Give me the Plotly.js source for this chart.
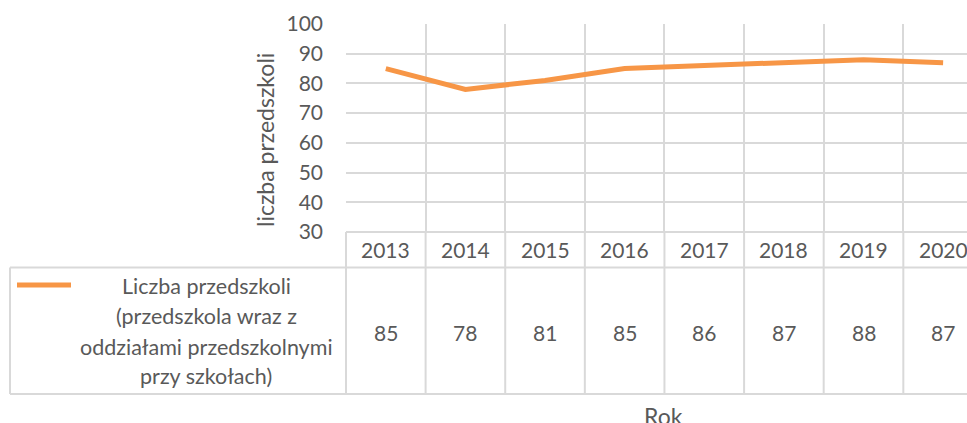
<!DOCTYPE html>
<html>
<head>
<meta charset="utf-8">
<script src="https://cdn.plot.ly/plotly-3.0.1.min.js"></script>
<style>html,body{margin:0;padding:0;background:#fff;}#chart{width:967px;height:423px;}</style>
</head>
<body>
<div id="chart"></div>
<script>
const years = [2013, 2014, 2015, 2016, 2017, 2018, 2019, 2020];
const values = [85, 78, 81, 85, 86, 87, 88, 87];
const seriesName = ["Liczba przedszkoli", "(przedszkola wraz z", "oddziałami przedszkolnymi", "przy szkołach)"];
const yTicks = [30, 40, 50, 60, 70, 80, 90, 100];
const yTitle = "liczba przedszkoli";
const xTitle = "Rok";

const W = 967, H = 423;
const L = 346, T = 24, B = 232;
const plotW = W - L, plotH = B - T;
const xr = [2012.5, 2020.3];
const px2x = px => (px - L) / plotW;
const py2y = py => (B - py) / plotH;
const dx = v => (v - xr[0]) / (xr[1] - xr[0]);

const grid = '#D9D9D9', txt = '#595959', orange = '#F79646';
const font = 'Lato, "Open Sans", sans-serif';

const shapes = [];
const annotations = [];
const line = (x0, y0, x1, y1) => shapes.push({type: 'line', xref: 'paper', yref: 'paper', x0, y0, x1, y1, line: {color: grid, width: 2}, layer: 'below'});

// vertical boundaries through category row and table
years.forEach(yv => { const xp = dx(yv - 0.5); line(xp, py2y(232), xp, py2y(394)); });
// horizontal table lines
line(px2x(346), py2y(232), 1.05, py2y(232));
line(px2x(10), py2y(267.5), 1.05, py2y(267.5));
line(px2x(10), py2y(394), 1.05, py2y(394));
line(px2x(10), py2y(267.5), px2x(10), py2y(394));
// legend line
shapes.push({type: 'line', xref: 'paper', yref: 'paper', x0: px2x(17), x1: px2x(71), y0: py2y(285), y1: py2y(285), line: {color: orange, width: 5}});

years.forEach((yv, i) => {
  annotations.push({xref: 'x', yref: 'paper', x: yv, y: py2y(249), text: String(yv), showarrow: false, font: {family: font, size: 21, color: txt}, xanchor: 'center', yanchor: 'middle'});
  annotations.push({xref: 'x', yref: 'paper', x: yv, y: py2y(332), text: String(values[i]), showarrow: false, font: {family: font, size: 21, color: txt}, xanchor: 'center', yanchor: 'middle'});
});
const legY = [286, 316, 347, 376];
seriesName.forEach((t, i) => annotations.push({xref: 'paper', yref: 'paper', x: px2x(206), y: py2y(legY[i]), text: t, showarrow: false, font: {family: font, size: 21.5, color: txt}, xanchor: 'center', yanchor: 'middle'}));
annotations.push({xref: 'paper', yref: 'paper', x: px2x(265), y: py2y(140), text: yTitle, textangle: -90, showarrow: false, font: {family: font, size: 23, color: txt}, xanchor: 'center', yanchor: 'middle'});
annotations.push({xref: 'paper', yref: 'paper', x: px2x(663), y: py2y(416), text: xTitle, showarrow: false, font: {family: font, size: 23, color: txt}, xanchor: 'center', yanchor: 'middle'});

const data = [{
  type: 'scatter', mode: 'lines', x: years, y: values, name: seriesName.join(' '),
  line: {color: orange, width: 5}, cliponaxis: false
}];

const layout = {
  width: W, height: H,
  margin: {l: L, r: 0, t: T, b: H - B, pad: 0},
  paper_bgcolor: '#fff', plot_bgcolor: '#fff',
  showlegend: false,
  font: {family: font, color: txt, size: 21},
  xaxis: {range: xr, tickvals: years.map(v => v - 0.5), showticklabels: false, showgrid: true, gridcolor: grid, gridwidth: 2, zeroline: false, showline: false, ticks: ''},
  yaxis: {range: [30, 100], tickvals: yTicks, showgrid: true, gridcolor: grid, gridwidth: 2, zeroline: false, showline: false, ticks: '', ticklabelstandoff: 22, tickfont: {family: font, size: 21, color: txt}},
  shapes, annotations
};
Plotly.newPlot('chart', data, layout, {displayModeBar: false, staticPlot: true});
</script>
</body>
</html>
